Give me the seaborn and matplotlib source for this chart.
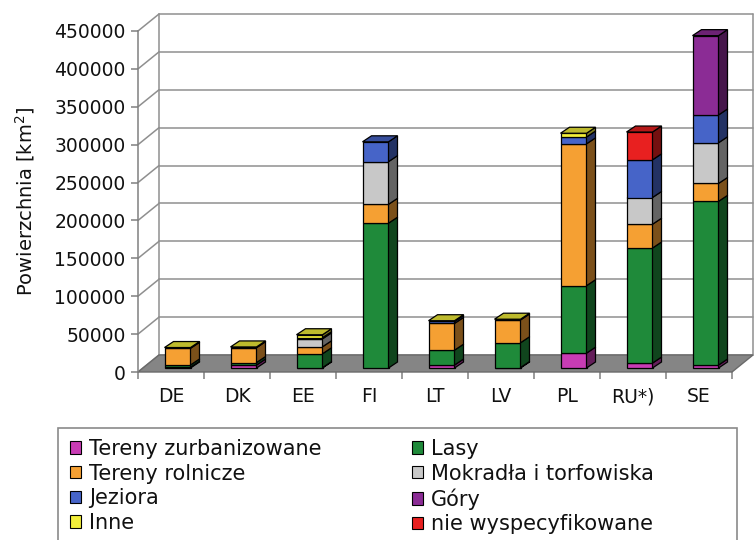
import numpy as np
import matplotlib
matplotlib.use("Agg")
import matplotlib.pyplot as plt
import matplotlib.colors as mcolors
from matplotlib.patches import Polygon, Rectangle, Patch
from matplotlib.transforms import ScaledTranslation
import seaborn as sns

# Land-cover area by country [km2]
countries = ["DE", "DK", "EE", "FI", "LT", "LV", "PL", "RU*)", "SE"]
zurbanizowane = [1000, 3900, 500, 0, 3900, 600, 19600, 6500, 3900]
lasy = [3000, 3300, 18300, 191100, 19600, 32700, 89000, 151800, 216000]
rolnicze = [22000, 19600, 9200, 24900, 35300, 30100, 187200, 31400, 23600]
mokradla = [0, 0, 10500, 56300, 0, 0, 0, 35300, 53700]
jeziora = [0, 0, 1500, 26200, 2600, 0, 9000, 49700, 36700]
gory = [0, 0, 0, 0, 0, 0, 0, 0, 104700]
inne = [1000, 1000, 3900, 0, 1000, 1000, 5000, 0, 0]
nie_wyspecyfikowane = [0, 0, 0, 0, 0, 0, 0, 36700, 0]

series_names = ["Tereny zurbanizowane", "Lasy", "Tereny rolnicze",
                "Mokradła i torfowiska", "Jeziora", "Góry", "Inne",
                "nie wyspecyfikowane"]
series_values = [zurbanizowane, lasy, rolnicze, mokradla, jeziora, gory,
                 inne, nie_wyspecyfikowane]
series_colors = ["#C83CB4", "#1F8A3A", "#F5A033", "#C8C8C8", "#4664C8",
                 "#8B2C95", "#F2EE3A", "#E82020"]

yticks = [0, 50000, 100000, 150000, 200000, 250000, 300000, 350000,
          400000, 450000]
ytick_labels = [str(v) for v in yticks]

sns.set_style("white")
plt.rcParams["font.family"] = ["DejaVu Sans"]

W, H, DPI = 754, 540, 100
fig = plt.figure(figsize=(W / DPI, H / DPI), dpi=DPI)
fig.patch.set_facecolor("white")

# front plane of the 3-D box, in pixels
AX_L, AX_R, AX_B, AX_T = 138, 732, 372, 31
ax = fig.add_axes([AX_L / W, 1 - AX_B / H, (AX_R - AX_L) / W, (AX_B - AX_T) / H])
ax.set_facecolor("none")

YMAX = 450000
n = len(countries)
ux = n / (AX_R - AX_L)          # data units per pixel (x)
uy = YMAX / (AX_B - AX_T)       # data units per pixel (y)

# depth of the whole box and of one bar, in pixels
WALL_DX, WALL_DY = 21, 17
BAR_DX, BAR_DY = 9, 6
BAR_SHIFT_X, BAR_SHIFT_Y = 6.5, 4
BAR_W = 26 * ux

# ---- stacked bars (front faces) ----
bottom = np.zeros(n)
for name, vals, col in zip(series_names, series_values, series_colors):
    vals = np.asarray(vals, dtype=float)
    sns.barplot(x=countries, y=vals, bottom=bottom.copy(), color=col,
                width=BAR_W, saturation=1, errorbar=None,
                edgecolor="black", linewidth=0.9, ax=ax, zorder=3)
    bottom += vals

bar_rects = [p for p in ax.patches if isinstance(p, Rectangle)]

ax.set_xlim(-0.5, n - 0.5)
ax.set_ylim(0, YMAX)

shift = ax.transData + ScaledTranslation(BAR_SHIFT_X / DPI, BAR_SHIFT_Y / DPI,
                                         fig.dpi_scale_trans)


def shade(c, f):
    r, g, b = mcolors.to_rgb(c)
    return (r * f, g * f, b * f)


bdx, bdy = BAR_DX * ux, BAR_DY * uy
tops = {}
for r in bar_rects:
    x, y, w, h = r.get_x(), r.get_y(), r.get_width(), r.get_height()
    if h <= 0:
        r.set_visible(False)
        continue
    r.set_transform(shift)
    r.set_clip_on(False)
    fc = r.get_facecolor()
    side = Polygon([(x + w, y), (x + w + bdx, y + bdy),
                    (x + w + bdx, y + h + bdy), (x + w, y + h)],
                   closed=True, facecolor=shade(fc, 0.5), edgecolor="black",
                   linewidth=0.9, transform=shift, clip_on=False, zorder=3)
    ax.add_patch(side)
    key = round(x, 4)
    if key not in tops or y + h > tops[key][1]:
        tops[key] = (x, y + h, w, fc)

for x, top, w, fc in tops.values():
    lid = Polygon([(x, top), (x + w, top), (x + w + bdx, top + bdy),
                   (x + bdx, top + bdy)], closed=True,
                  facecolor=shade(fc, 0.78), edgecolor="black", linewidth=0.9,
                  transform=shift, clip_on=False, zorder=4)
    ax.add_patch(lid)

# ---- walls and floor ----
wx, wy = WALL_DX * ux, WALL_DY * uy
x0, x1 = -0.5, n - 0.5
grid_c = "#8f8f8f"
for v in yticks:
    ax.plot([x0 + wx, x1 + wx], [v + wy, v + wy], color=grid_c, lw=1.1,
            clip_on=False, zorder=0)
    ax.plot([x0, x0 + wx], [v, v + wy], color=grid_c, lw=1.1,
            clip_on=False, zorder=0)
ax.plot([x0 + wx, x0 + wx], [wy, YMAX + wy], color=grid_c, lw=1.1,
        clip_on=False, zorder=0)
ax.plot([x1 + wx, x1 + wx], [wy, YMAX + wy], color=grid_c, lw=1.1,
        clip_on=False, zorder=0)

floor = Polygon([(x0, 0), (x1, 0), (x1 + wx, wy), (x0 + wx, wy)], closed=True,
                facecolor="#858585", edgecolor="#6a6a6a", linewidth=1,
                clip_on=False, zorder=1)
ax.add_patch(floor)

# ---- axes ----
for s in ["top", "right", "bottom"]:
    ax.spines[s].set_visible(False)
ax.spines["left"].set_color("#808080")
ax.spines["left"].set_linewidth(1.1)

ax.set_yticks(yticks, ytick_labels)
ax.tick_params(axis="y", left=True, length=5, width=1.1, color="#808080",
               pad=4, labelsize=13.5, labelcolor="#111111")
ax.set_xticks(range(n), countries)
ax.set_xticks(np.arange(-0.5, n, 1), minor=True)
ax.tick_params(axis="x", which="major", bottom=False, length=0, pad=11,
               labelsize=13.5, labelcolor="#111111")
ax.tick_params(axis="x", which="minor", bottom=True, length=5, width=1.1,
               color="#808080")
ax.set_xlabel("")
ax.set_ylabel("")

fig.text(25 / W, 1 - 201 / H, "Powierzchnia [km$^{2}$]", rotation=90,
         ha="center", va="center", fontsize=14, color="#111111")

# ---- legend ----
handles = {nm: Patch(facecolor=c, edgecolor="black", linewidth=0.8)
           for nm, c in zip(series_names, series_colors)}
order = [0, 2, 4, 6, 1, 3, 5, 7]
leg = fig.legend([handles[series_names[i]] for i in order],
                 [series_names[i] for i in order],
                 loc="upper left", bbox_to_anchor=(70 / W, 1 - 439 / H),
                 ncol=2, frameon=False, fontsize=15, handlelength=0.55,
                 handleheight=0.55, handletextpad=0.35, labelspacing=0.22,
                 columnspacing=4.35, borderaxespad=0, borderpad=0)
for t in leg.get_texts():
    t.set_color("#111111")

frame = Rectangle((58 / W, -0.1), (737 - 58) / W, 0.1 + (540 - 428) / H,
                  transform=fig.transFigure, fill=False, edgecolor="#8a8a8a",
                  linewidth=1.2)
fig.add_artist(frame)

fig.savefig("out.png", dpi=DPI)
